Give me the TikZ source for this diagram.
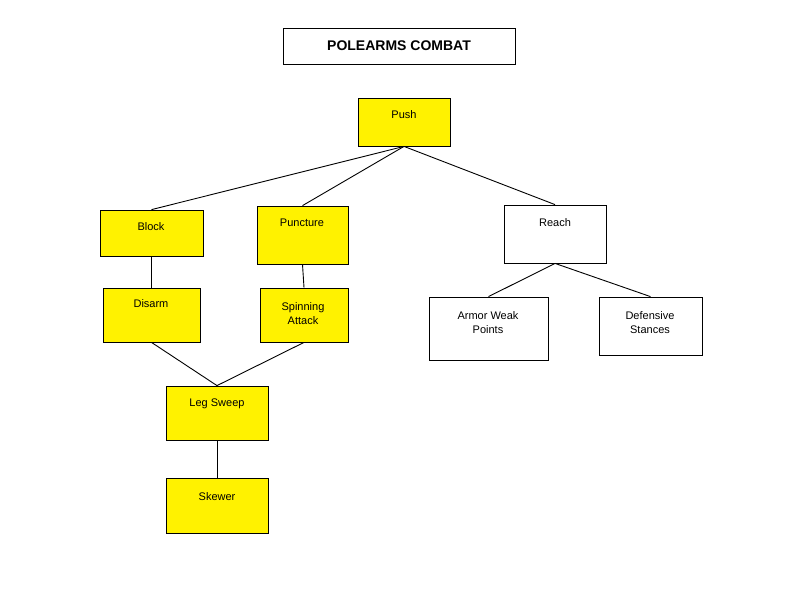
\documentclass[tikz,border=0pt]{standalone}
\usepackage{fontspec}
\setmainfont{Liberation Sans}
\begin{document}
\begin{tikzpicture}[x=1pt,y=-1pt,
  box/.style={draw=black,line width=0.8pt,fill=yellow,inner sep=0pt},
  wbox/.style={draw=black,line width=0.8pt,fill=white,inner sep=0pt},
  txt/.style={font=\fontsize{11}{14}\selectfont,align=center,inner sep=0pt},
  edge/.style={line width=0.9pt}]
\useasboundingbox (0,0) rectangle (800,600);
\newcommand{\bx}[6]{\node[#1,minimum width={#4-#2},minimum height={#5-#3}] (#6) at ({(#2+#4)/2},{(#3+#5)/2}) {};}
\bx{wbox}{283}{28}{515}{64}{title}
\node[font=\bfseries\fontsize{14}{16}\selectfont] (titletext) at (title) {POLEARMS COMBAT};
\bx{box}{358}{98}{450}{146}{push}
\bx{box}{100}{210}{203}{256}{block}
\bx{box}{257}{206}{348}{264}{punct}
\bx{wbox}{504}{205}{606}{263}{reach}
\bx{box}{103}{288}{200}{342}{disarm}
\bx{box}{260}{288}{348}{342}{spin}
\bx{wbox}{429}{297}{548}{360}{armor}
\bx{wbox}{599}{297}{702}{355}{def}
\bx{box}{166}{386}{268}{440}{leg}
\bx{box}{166}{478}{268}{533}{skewer}
\node[txt] (t1) at (404,115) {Push};
\node[txt] (t2) at (151,227) {Block};
\node[txt] (t3) at (302,223) {Puncture};
\node[txt] (t4) at (555,223) {Reach};
\node[txt] (t5) at (151,304) {Disarm};
\node[txt] (t6) at (303,314) {Spinning\\Attack};
\node[txt] (t7) at (488,323) {Armor Weak\\Points};
\node[txt] (t8) at (650,323) {Defensive\\Stances};
\node[txt] (t9) at (217,404) {Leg Sweep};
\node[txt] (t10) at (217,497) {Skewer};
\draw[edge] (push.south) -- (block.north);
\draw[edge] (push.south) -- (punct.north);
\draw[edge] (push.south) -- (reach.north);
\draw[edge] (block.south) -- (disarm.north);
\draw[edge] (punct.south) -- (spin.north);
\draw[edge] (reach.south) -- (armor.north);
\draw[edge] (reach.south) -- (def.north);
\draw[edge] (disarm.south) -- (leg.north);
\draw[edge] (spin.south) -- (leg.north);
\draw[edge] (leg.south) -- (skewer.north);
\end{tikzpicture}
\end{document}
